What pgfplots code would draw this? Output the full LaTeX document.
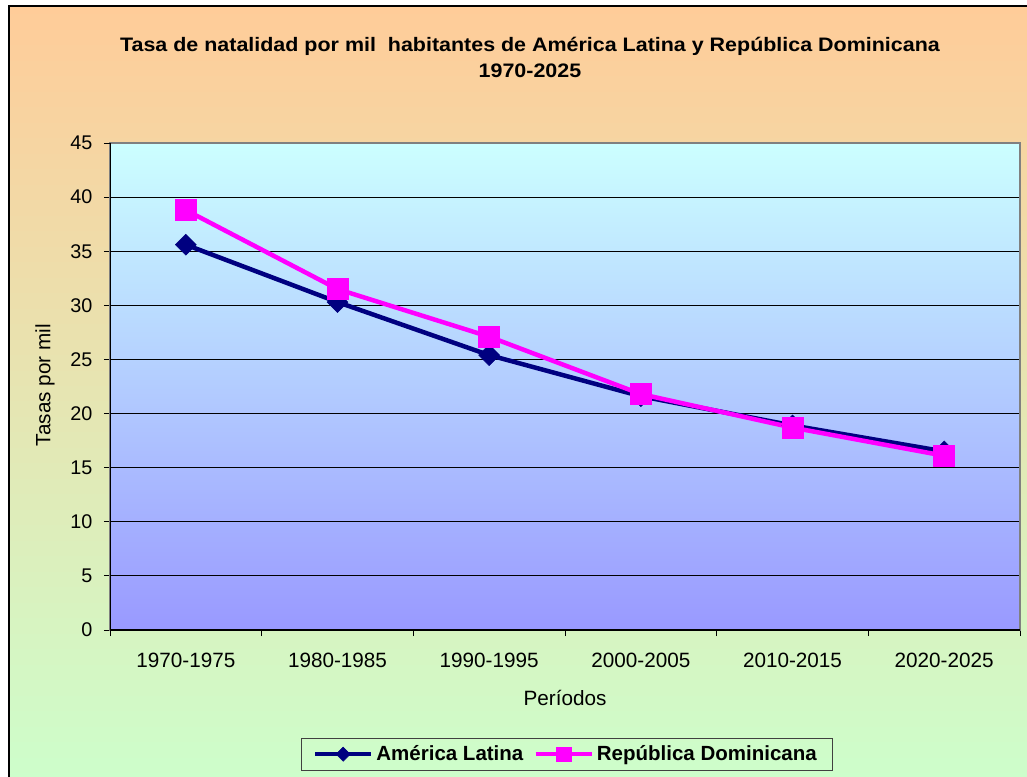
\documentclass[border=0pt]{standalone}
\usepackage{fontspec}
\setmainfont{Liberation Sans}
\newfontfamily\titlefont{Liberation Sans}[FakeStretch=1.1]
\usepackage{pgfplots}
\pgfplotsset{compat=1.18}
\definecolor{peach}{RGB}{255,204,153}
\definecolor{mint}{RGB}{204,255,204}
\definecolor{cyanl}{RGB}{204,255,255}
\definecolor{violl}{RGB}{153,153,255}
\definecolor{navy}{RGB}{0,0,128}
\definecolor{mag}{RGB}{255,0,255}
\newcommand\fs{\fontsize{20.7pt}{25pt}\selectfont}
\newcommand\fy{\fontsize{19.8pt}{24pt}\selectfont}
\newcommand\ft{\titlefont\fontsize{19.5pt}{26.5pt}\selectfont\bfseries}
\begin{document}
\begin{tikzpicture}[x=1pt,y=1pt]
\useasboundingbox (0,0) rectangle (1027,776);
\begin{scope}
\clip (0,0) rectangle (1027,776);
\shade[top color=peach, bottom color=mint] (9,-20) rectangle (1045,770);
\draw[line width=1.5pt] (9,-20) -- (9,770) -- (1045,770);
\end{scope}
\begin{axis}[
  at={(110pt,146pt)}, anchor=south west, scale only axis,
  width=910pt, height=487pt,
  xmin=-0.5, xmax=5.5, ymin=0, ymax=45,
  xtick={0,...,5},
  xticklabels={1970-1975,1980-1985,1990-1995,2000-2005,2010-2015,2020-2025},
  minor xtick={-0.5,0.5,...,5.5},
  major x tick style={draw=none},
  minor x tick style={black, line width=0.8pt},
  ytick={0,5,...,40},
  extra y ticks={45},
  extra y tick style={grid=none},
  y tick style={black, line width=0.8pt},
  tick align=outside, tick pos=left,
  major tick length=6pt, minor tick length=6pt,
  ymajorgrids=true,
  grid style={black, line width=0.9pt},
  axis line style={draw=gray, line width=1.2pt},
  axis background/.style={shade, top color=cyanl, bottom color=violl},
  /pgf/number format/assume math mode=true,
  xticklabel style={font=\fs, yshift=-14pt},
  yticklabel style={font=\fy, xshift=-8pt},
  title={Tasa de natalidad por mil~ habitantes de América Latina y República Dominicana\\1970-2025},
  title style={font=\ft, align=center, at={(axis description cs:0.4615,1.163)}, anchor=center},
  xlabel={Períodos},
  xlabel style={font=\fs, at={(axis description cs:0.5,-0.1396)}, anchor=center},
  ylabel={Tasas por mil},
  ylabel style={font=\fs, at={(axis description cs:-0.0714,0.503)}, anchor=center},
  legend columns=2,
  legend style={at={(axis description cs:0.502,-0.2218)}, anchor=north,
    draw=black!75, line width=0.8pt, fill=none, font=\fontsize{20.5pt}{24pt}\selectfont\bfseries,
    inner xsep=12pt, inner ysep=3.5pt,
    nodes={inner xsep=3.5pt, inner ysep=4pt},
    /tikz/every even column/.append style={column sep=7pt}},
  legend image code/.code={\draw[mark repeat=2,mark phase=2,#1,line width=3.5pt,
     every mark/.append style={scale=0.68}]
     plot coordinates {(0pt,0pt) (28pt,0pt) (56pt,0pt)};},
]
\addplot[navy, line width=4.5pt, mark=square*, mark size=7.4pt,
  mark options={rotate=45, line width=0.5pt, fill=navy}]
  coordinates {(0,35.6) (1,30.3) (2,25.4) (3,21.6) (4,18.9) (5,16.5)};
\addlegendentry{América Latina}
\addplot[mag, line width=4.5pt, mark=square*, mark size=10.5pt,
  mark options={line width=0.5pt, fill=mag}]
  coordinates {(0,38.8) (1,31.5) (2,27.1) (3,21.8) (4,18.7) (5,16.1)};
\addlegendentry{República Dominicana}
\draw[black, line width=1.5pt] (rel axis cs:0,1) -- (rel axis cs:0,0) -- (rel axis cs:1,0);
\end{axis}
\end{tikzpicture}
\end{document}
